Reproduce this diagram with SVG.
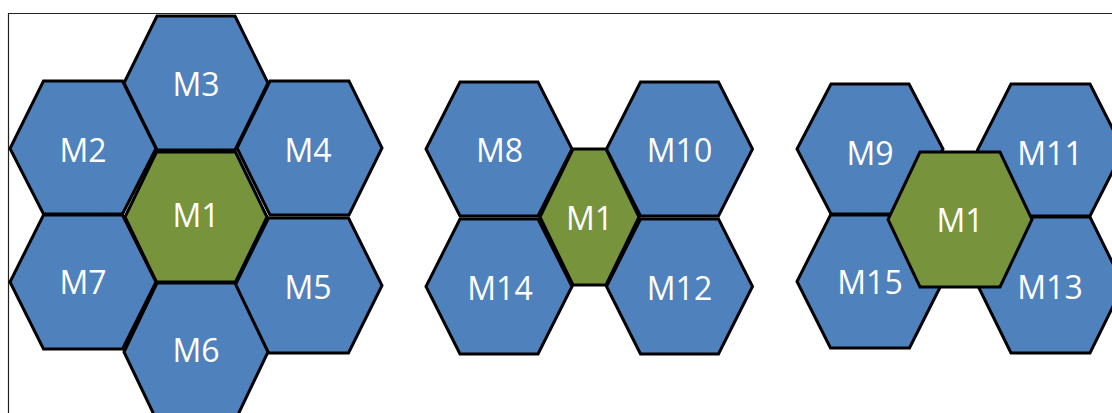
<svg xmlns="http://www.w3.org/2000/svg" width="1112" height="413" viewBox="0 0 1112 413">
  <style>
    .hex { stroke: #000; stroke-width: 3; stroke-linejoin: miter; }
    .blue { fill: #4F81BD; }
    .green { fill: #77933C; }
    .lbl { font-family: "Open Sans", "Liberation Sans", sans-serif; font-size: 32px; fill: #fff; text-anchor: middle; }
    .frame { fill: none; stroke: #222; stroke-width: 1.2; }
  </style>
  <rect width="1112" height="413" fill="#fff"/>
  <path class="frame" d="M8.5 413 V13.5 H1112"/>

  <!-- cluster 1: seven cells -->
  <g id="c1-M3"><polygon class="hex blue" points="157,16 235,16 268,83 235,150 157,150 124,83"/><text class="lbl" x="196" y="95.5">M3</text></g>
  <g id="c1-M2"><polygon class="hex blue" points="43.5,81 122.5,81 156,148.5 122.5,214 43.5,214 10,148.5"/><text class="lbl" x="83" y="161.5">M2</text></g>
  <g id="c1-M4"><polygon class="hex blue" points="270,81 349,81 382,148 349,215 270,215 237,148"/><text class="lbl" x="308" y="161.5">M4</text></g>
  <g id="c1-M7"><polygon class="hex blue" points="43.5,215 122.5,215 156,282 122.5,349 43.5,349 10,282"/><text class="lbl" x="83" y="293.5">M7</text></g>
  <g id="c1-M5"><polygon class="hex blue" points="268.5,218 348.5,218 382,285.5 348.5,353 268.5,353 235,285.5"/><text class="lbl" x="308" y="298.5">M5</text></g>
  <g id="c1-M6"><polygon class="hex blue" points="157,283 235,283 268,352 235,421 157,421 124,352"/><text class="lbl" x="196" y="361.5">M6</text></g>
  <g id="c1-M1"><polygon class="hex green" points="156.5,152 235.5,152 267,217 235.5,282 156.5,282 125,217"/><text class="lbl" x="196" y="226.5">M1</text></g>

  <!-- cluster 2: narrow centre cell -->
  <g id="c2-M8"><polygon class="hex blue" points="460,82 538,82 572,149 538,216 460,216 426,149"/><text class="lbl" x="499.5" y="162">M8</text></g>
  <g id="c2-M10"><polygon class="hex blue" points="640.5,82 718.5,82 752.5,149 718.5,216 640.5,216 606.5,149"/><text class="lbl" x="679.5" y="162">M10</text></g>
  <g id="c2-M14"><polygon class="hex blue" points="460,219 538,219 572,286.5 538,354 460,354 426,286.5"/><text class="lbl" x="500" y="299.5">M14</text></g>
  <g id="c2-M12"><polygon class="hex blue" points="640.5,219 718.5,219 752.5,286.5 718.5,354 640.5,354 606.5,286.5"/><text class="lbl" x="679.5" y="299.5">M12</text></g>
  <g id="c2-M1"><polygon class="hex green" points="573,149 606,149 639,217 606,285 573,285 540,217"/><text class="lbl" x="589.5" y="229.5">M1</text></g>

  <!-- cluster 3: centre cell overlapping its neighbours -->
  <g id="c3-M9"><polygon class="hex blue" points="831,84 909,84 943,149 909,214 831,214 797,149"/><text class="lbl" x="870" y="164.5">M9</text></g>
  <g id="c3-M11"><polygon class="hex blue" points="1011,84 1090,84 1123.5,150 1090,216 1011,216 977.5,150"/><text class="lbl" x="1050" y="164.5">M11</text></g>
  <g id="c3-M15"><polygon class="hex blue" points="830.5,215 909.5,215 943,281.5 909.5,348 830.5,348 797,281.5"/><text class="lbl" x="870" y="293.5">M15</text></g>
  <g id="c3-M13"><polygon class="hex blue" points="1011,217 1090,217 1123.5,285 1090,353 1011,353 977.5,285"/><text class="lbl" x="1050" y="298.5">M13</text></g>
  <g id="c3-M1"><polygon class="hex green" points="920,152 1000,152 1032,219.5 1000,287 920,287 888,219.5"/><text class="lbl" x="960" y="231.5">M1</text></g>

  <g id="connectors"/>
</svg>
